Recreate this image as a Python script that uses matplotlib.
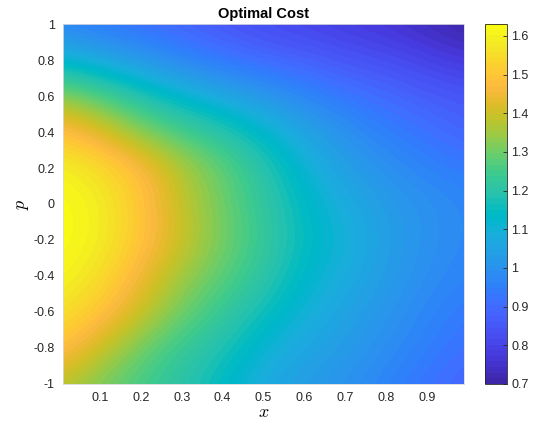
import numpy as np
import matplotlib
matplotlib.use("Agg")
import matplotlib.pyplot as plt
from matplotlib.colors import ListedColormap

# grid (evenly spaced cell centres)
x_vals = [0.0, 0.1, 0.2, 0.3, 0.4, 0.5, 0.6, 0.7, 0.8, 0.9, 1.0]
p_vals = [-1, -0.8, -0.6, -0.4, -0.2, 0, 0.2, 0.4, 0.6, 0.8, 1]

# optimal cost, one row per p value (p = -1 first)
cost = [
    [1.38, 1.31, 1.25, 1.20, 1.14, 1.07, 1.03, 1.00, 0.96, 0.92, 0.88],
    [1.50, 1.40, 1.30, 1.23, 1.18, 1.11, 1.06, 1.03, 0.99, 0.95, 0.91],
    [1.57, 1.50, 1.40, 1.30, 1.23, 1.16, 1.10, 1.05, 1.01, 0.97, 0.93],
    [1.62, 1.56, 1.45, 1.35, 1.28, 1.21, 1.13, 1.08, 1.03, 0.99, 0.96],
    [1.63, 1.60, 1.50, 1.40, 1.31, 1.23, 1.15, 1.10, 1.04, 1.00, 0.97],
    [1.63, 1.60, 1.50, 1.39, 1.30, 1.22, 1.14, 1.08, 1.03, 1.00, 0.97],
    [1.61, 1.56, 1.48, 1.37, 1.29, 1.20, 1.11, 1.04, 1.00, 0.96, 0.94],
    [1.50, 1.43, 1.33, 1.26, 1.20, 1.13, 1.06, 1.00, 0.95, 0.92, 0.88],
    [1.34, 1.27, 1.19, 1.12, 1.07, 1.02, 0.97, 0.93, 0.90, 0.87, 0.85],
    [1.12, 1.07, 1.02, 0.97, 0.93, 0.90, 0.88, 0.85, 0.83, 0.80, 0.77],
    [0.96, 0.93, 0.91, 0.88, 0.85, 0.82, 0.80, 0.78, 0.76, 0.73, 0.70],
]

x_ticks = [0.1, 0.2, 0.3, 0.4, 0.5, 0.6, 0.7, 0.8, 0.9]
p_ticks = [-1, -0.8, -0.6, -0.4, -0.2, 0, 0.2, 0.4, 0.6, 0.8, 1]
cbar_ticks = [0.7, 0.8, 0.9, 1.0, 1.1, 1.2, 1.3, 1.4, 1.5, 1.6]

# MATLAB parula
parula = ListedColormap([
    [0.2422, 0.1504, 0.6603], [0.2504, 0.1650, 0.7076], [0.2578, 0.1818, 0.7511],
    [0.2647, 0.1978, 0.7952], [0.2706, 0.2147, 0.8364], [0.2751, 0.2342, 0.8710],
    [0.2783, 0.2559, 0.8991], [0.2803, 0.2782, 0.9221], [0.2813, 0.3006, 0.9414],
    [0.2810, 0.3228, 0.9579], [0.2795, 0.3447, 0.9717], [0.2760, 0.3667, 0.9829],
    [0.2699, 0.3892, 0.9906], [0.2602, 0.4123, 0.9952], [0.2440, 0.4358, 0.9988],
    [0.2206, 0.4603, 0.9973], [0.1963, 0.4847, 0.9892], [0.1834, 0.5074, 0.9798],
    [0.1786, 0.5289, 0.9682], [0.1764, 0.5499, 0.9520], [0.1687, 0.5703, 0.9359],
    [0.1540, 0.5902, 0.9218], [0.1460, 0.6091, 0.9079], [0.1380, 0.6276, 0.8973],
    [0.1248, 0.6459, 0.8883], [0.1113, 0.6635, 0.8763], [0.0952, 0.6798, 0.8598],
    [0.0689, 0.6948, 0.8394], [0.0297, 0.7082, 0.8163], [0.0036, 0.7203, 0.7917],
    [0.0067, 0.7312, 0.7660], [0.0433, 0.7411, 0.7394], [0.0964, 0.7500, 0.7120],
    [0.1408, 0.7584, 0.6842], [0.1717, 0.7670, 0.6554], [0.1938, 0.7758, 0.6251],
    [0.2161, 0.7843, 0.5923], [0.2470, 0.7918, 0.5567], [0.2906, 0.7973, 0.5188],
    [0.3406, 0.8008, 0.4789], [0.3909, 0.8029, 0.4354], [0.4456, 0.8024, 0.3909],
    [0.5044, 0.7993, 0.3480], [0.5616, 0.7942, 0.3045], [0.6174, 0.7876, 0.2612],
    [0.6720, 0.7793, 0.2227], [0.7242, 0.7698, 0.1910], [0.7738, 0.7598, 0.1646],
    [0.8203, 0.7498, 0.1535], [0.8634, 0.7406, 0.1596], [0.9035, 0.7330, 0.1774],
    [0.9393, 0.7288, 0.2100], [0.9728, 0.7298, 0.2394], [0.9956, 0.7434, 0.2371],
    [0.9970, 0.7659, 0.2199], [0.9952, 0.7893, 0.2028], [0.9892, 0.8136, 0.1885],
    [0.9786, 0.8386, 0.1766], [0.9676, 0.8639, 0.1643], [0.9610, 0.8890, 0.1537],
    [0.9597, 0.9135, 0.1423], [0.9628, 0.9373, 0.1265], [0.9691, 0.9606, 0.1064],
    [0.9769, 0.9839, 0.0805],
], name="parula")

plt.rcParams['font.family'] = ['Liberation Sans', 'DejaVu Sans']
plt.rcParams['mathtext.fontset'] = 'cm'
plt.rcParams['axes.unicode_minus'] = False

grey = (0.15, 0.15, 0.15)
fig = plt.figure(figsize=(5.35, 4.25), dpi=100)
ax = fig.add_axes([0.1178, 0.0965, 0.7495, 0.847])
cax = fig.add_axes([0.9065, 0.0965, 0.0411, 0.847])

dx = x_vals[1] - x_vals[0]
dp = p_vals[1] - p_vals[0]
img = ax.imshow(np.array(cost), origin='lower', aspect='auto', cmap=parula,
                vmin=0.7, vmax=1.631, interpolation='bicubic',
                interpolation_stage='data',
                extent=(x_vals[0] - dx / 2, x_vals[-1] + dx / 2,
                        p_vals[0] - dp / 2, p_vals[-1] + dp / 2))
ax.set_xlim(0.01, 0.99)
ax.set_ylim(-1, 1)
ax.set_xticks(x_ticks)
ax.set_yticks(p_ticks)
ax.set_xticklabels([f'{v:g}' for v in x_ticks])
ax.set_yticklabels([f'{v:g}' for v in p_ticks])
ax.tick_params(length=0, labelsize=9, colors=grey, pad=6)
for s in ax.spines.values():
    s.set_color((0.85, 0.85, 0.85))
    s.set_linewidth(0.6)
ax.set_title('Optimal Cost', fontsize=10.5, fontweight='bold', pad=4)
ax.set_xlabel(r'$x$', fontsize=13, labelpad=0)
ax.set_ylabel(r'$p$', fontsize=13, labelpad=2)

cb = fig.colorbar(img, cax=cax, ticks=cbar_ticks)
cb.ax.set_yticklabels([f'{v:g}' for v in cbar_ticks])
cb.ax.tick_params(direction='in', length=3, width=0.6, labelsize=9, colors=grey, pad=3)
cb.outline.set_edgecolor(grey)
cb.outline.set_linewidth(0.6)

fig.savefig('out.png', dpi=100)
